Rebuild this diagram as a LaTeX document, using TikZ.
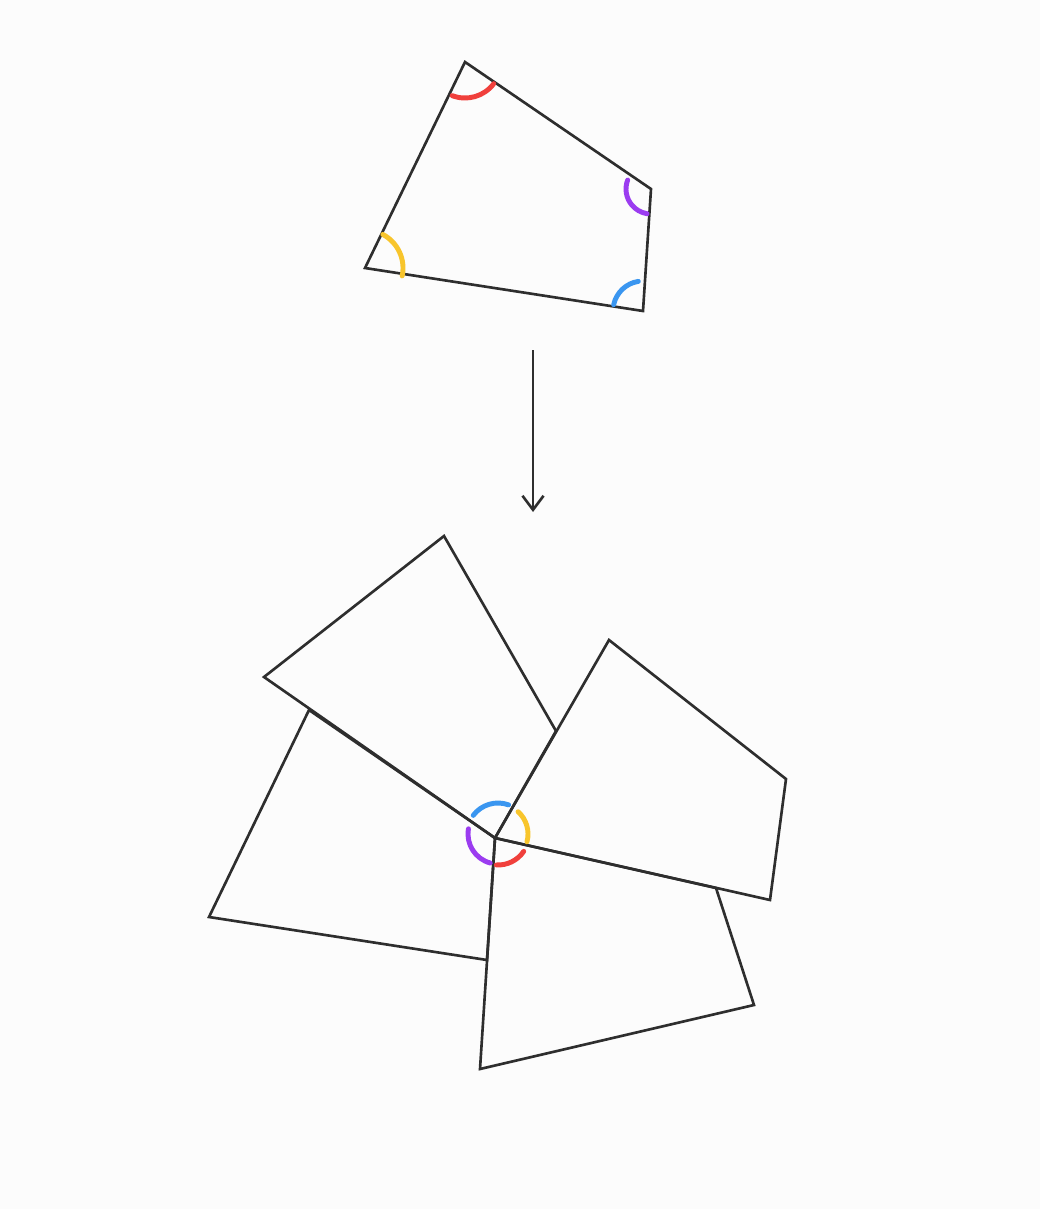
\documentclass[tikz,border=0pt]{standalone}
\usetikzlibrary{arrows.meta}
\definecolor{paper}{HTML}{FCFCFC}
\definecolor{ink}{HTML}{2E2E2E}
\definecolor{hred}{HTML}{F0403C}
\definecolor{hpurple}{HTML}{9B3CF0}
\definecolor{hblue}{HTML}{3A96F0}
\definecolor{hyellow}{HTML}{F8C52C}
\begin{document}
\begin{tikzpicture}[x=0.01cm,y=-0.01cm,
  edge/.style={draw=ink,line width=0.75pt},
  anglemark/.style={line width=1.4pt,line cap=round}]
\fill[paper] (0,0) rectangle (1040,1209);
\useasboundingbox (0,0) rectangle (1040,1209);
% the quadrilateral
\coordinate (A) at (465,62); \coordinate (B) at (651,189);
\coordinate (C) at (643,311); \coordinate (D) at (365,268);
\draw[edge] (A) -- (B) -- (C) -- (D) -- cycle;
\draw[anglemark,hred] (A) ++(111:36) arc[start angle=111,end angle=37,radius=36];
\draw[anglemark,hpurple] (B) ++(201:25) arc[start angle=201,end angle=99,radius=25];
\draw[anglemark,hblue] (C) ++(192:30) arc[start angle=192,end angle=261,radius=30];
\draw[anglemark,hyellow] (D) ++(-62:38) arc[start angle=-62,end angle=12,radius=38];
% arrow
\coordinate (arrtop) at (533,350); \coordinate (arrbot) at (533,512);
\draw[edge,-{Straight Barb[length=4pt,width=6pt]}] (arrtop) -- (arrbot);
% four copies round one vertex
\coordinate (O) at (495,838); \coordinate (P) at (498,834);
\coordinate (q1a) at (264,677); \coordinate (q1b) at (444,536); \coordinate (q1c) at (556,731);
\coordinate (q2a) at (609,640); \coordinate (q2b) at (786,779); \coordinate (q2c) at (770,900);
\coordinate (q3a) at (716,888); \coordinate (q3b) at (754,1005); \coordinate (q3c) at (480,1069);
\coordinate (q4a) at (309,710); \coordinate (q4b) at (209,917); \coordinate (q4c) at (487,960);
\draw[edge] (O) -- (q1a) -- (q1b) -- (q1c) -- cycle;
\draw[edge] (O) -- (q2a) -- (q2b) -- (q2c) -- cycle;
\draw[edge] (O) -- (q3a) -- (q3b) -- (q3c) -- cycle;
\draw[edge] (O) -- (q4a) -- (q4b) -- (q4c) -- cycle;
\draw[anglemark,hblue] (P) ++(-143:31) arc[start angle=-143,end angle=-70,radius=31];
\draw[anglemark,hyellow] (P) ++(-48:30) arc[start angle=-48,end angle=15,radius=30];
\draw[anglemark,hred] (P) ++(34:31) arc[start angle=34,end angle=93,radius=31];
\draw[anglemark,hpurple] (P) ++(105:30) arc[start angle=105,end angle=190,radius=30];
\end{tikzpicture}
\end{document}
